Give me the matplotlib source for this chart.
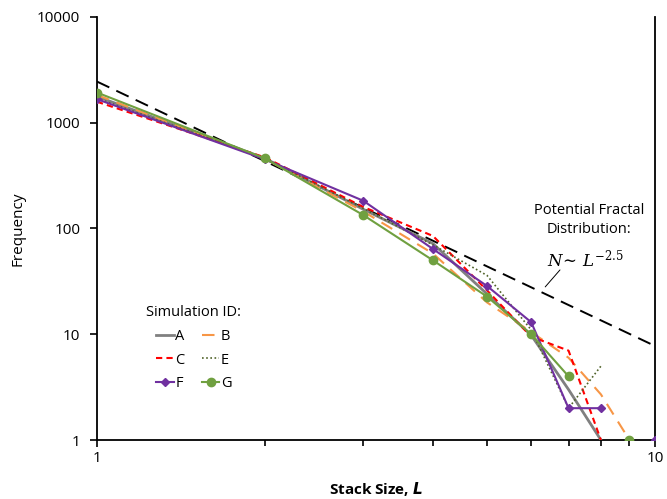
import numpy as np
import matplotlib
matplotlib.use("Agg")
import matplotlib.pyplot as plt

plt.rcParams['font.family'] = ['Open Sans', 'DejaVu Sans']

L = [1, 2, 3, 4, 5, 6, 7, 8, 9, 10]
nan = np.nan
sim_A = [1770, 460, 152, 72, 24, 9.8, 3.0, 1, nan, nan]
sim_B = [1830, 455, 145, 58, 20, 10.5, 6.0, 2.7, 1, nan]
sim_C = [1580, 470, 160, 85, 26, 9.5, 7.0, 1, nan, nan]
sim_E = [1700, 460, 155, 70, 36, 11, 2.0, 5.0, nan, nan]
sim_F = [1670, 450, 183, 64, 28.6, 13, 2, 2, nan, 1]
sim_G = [1930, 460, 134, 50, 22.7, 10, 4, nan, 1, nan]
power_coef = 2450
power_exp = -2.5

fig = plt.figure(figsize=(6.67, 4.99), dpi=100)
ax = fig.add_axes([0.1454, 0.1182, 0.8366, 0.8478])

Lf = np.array([1.0, 10.0])
ax.plot(Lf, power_coef * Lf ** power_exp, color='black', lw=1.4, dashes=(7, 4), zorder=1)

hA, = ax.plot(L, sim_A, color='#808080', lw=2.0, label='A', zorder=3)
hB, = ax.plot(L, sim_B, color='#F79646', lw=1.5, dashes=(6, 4), label='B', zorder=3)
hC, = ax.plot(L, sim_C, color='#FF0000', lw=1.5, dashes=(3, 2), label='C', zorder=3)
hE, = ax.plot(L, sim_E, color='#4F6228', lw=1.2, dashes=(1, 1.5), label='E', zorder=3)
hF, = ax.plot(L, sim_F, color='#7030A0', lw=1.5, marker='D', ms=4, label='F', zorder=4)
hG, = ax.plot(L, sim_G, color='#70A040', lw=1.5, marker='o', ms=6, label='G', zorder=4)

ax.set_xscale('log')
ax.set_yscale('log')
ax.set_xlim(1, 10)
ax.set_ylim(1, 10000)
ax.set_xticks([1, 10])
ax.set_xticklabels(['1', '10'])
ax.set_yticks([1, 10, 100, 1000, 10000])
ax.set_yticklabels(['1', '10', '100', '1000', '10000'])
ax.xaxis.set_minor_locator(matplotlib.ticker.FixedLocator([2, 3, 4, 5, 6, 7, 8, 9]))
ax.xaxis.set_minor_formatter(matplotlib.ticker.NullFormatter())
ax.yaxis.set_minor_locator(matplotlib.ticker.NullLocator())
ax.tick_params(axis='both', which='major', direction='out', length=5, width=1.2,
               labelsize=11, colors='black', pad=7)
ax.tick_params(axis='x', which='major', pad=3)
ax.tick_params(axis='x', which='minor', direction='out', length=4, width=1.2)
ax.spines['top'].set_visible(False)
for s in ['left', 'bottom', 'right']:
    ax.spines[s].set_linewidth(1.3)

ax.set_ylabel('Frequency', fontsize=11, labelpad=8)
ax.set_xlabel(r'Stack Size, $\boldsymbol{L}$', fontsize=11, fontweight='bold', labelpad=10)

leg = ax.legend([hA, hC, hF, hB, hE, hG], ['A', 'C', 'F', 'B', 'E', 'G'],
                ncol=2, frameon=False, title='Simulation ID:', fontsize=10.5,
                title_fontsize=10.5, handlelength=1.2, handletextpad=0.1,
                columnspacing=1.2, labelspacing=0.6,
                loc='upper left', bbox_to_anchor=(0.065, 0.35))

ax.text(0.882, 0.52, 'Potential Fractal\nDistribution:', transform=ax.transAxes,
        ha='center', va='center', fontsize=10.5, linespacing=1.35)
ax.text(0.875, 0.428, r'$N\!\sim\,L^{-2.5}$', transform=ax.transAxes, ha='center', va='center',
        fontsize=12, family='DejaVu Serif', math_fontfamily='dejavuserif')
ax.annotate('', xy=(0.80, 0.357), xytext=(0.833, 0.407), xycoords='axes fraction',
            arrowprops=dict(arrowstyle='-', color='black', lw=0.7))

fig.savefig('out.png', dpi=100)
